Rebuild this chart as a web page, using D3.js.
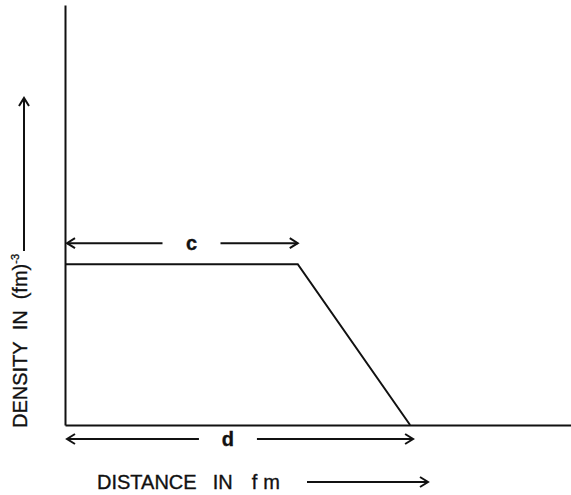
<!DOCTYPE html>
<html>
<head>
<meta charset="utf-8">
<script src="https://cdn.jsdelivr.net/npm/d3@7"></script>
<style>
  body { margin: 0; background: #fff; }
  text { font-family: "Liberation Sans", Arial, sans-serif; fill: #111; stroke: #111; stroke-width: 0.35px; }
</style>
</head>
<body>
<svg id="chart" width="571" height="495"></svg>
<script>
// trapezoid density profile (arbitrary units)
var distance = [0, 4.6, 6.82];
var density = [0.383, 0.383, 0];
var xDomain = [0, 10];
var yDomain = [0, 1];
var cLabel = "c";
var dLabel = "d";
var xTitle = ["DISTANCE", "IN", "fm"];
var yTitle = ["DENSITY", "IN", "(fm)"];
var yTitleSup = "-3";

var svg = d3.select("#chart");
var x = d3.scaleLinear().domain(xDomain).range([65, 571]);
var y = d3.scaleLinear().domain(yDomain).range([425, 5]);

// arrow heads
var defs = svg.append("defs");
defs.append("marker").attr("id", "head").attr("viewBox", "-10 -6 12 12")
    .attr("refX", 0).attr("refY", 0).attr("markerWidth", 12).attr("markerHeight", 12)
    .attr("markerUnits", "userSpaceOnUse").attr("orient", "auto")
    .append("path").attr("d", "M-8,-5 L0,0 L-8,5").attr("fill", "none")
    .attr("stroke", "#111").attr("stroke-width", 2);

// axes, no ticks
svg.append("g").attr("transform", "translate(" + x(0) + ",0)")
    .call(d3.axisLeft(y).ticks(0).tickSizeOuter(0))
    .select(".domain").attr("stroke", "#111").attr("stroke-width", 2);
svg.append("g").attr("transform", "translate(0," + y(0) + ")")
    .call(d3.axisBottom(x).ticks(0).tickSizeOuter(0))
    .select(".domain").attr("stroke", "#111").attr("stroke-width", 2);

// the profile
var pts = distance.map(function (d, i) { return [d, density[i]]; });
svg.append("path").datum(pts)
    .attr("d", d3.line().x(function (d) { return x(d[0]); }).y(function (d) { return y(d[1]); }))
    .attr("fill", "none").attr("stroke", "#111").attr("stroke-width", 2);

function spanArrow(x0, x1, yy, label, labelX, gap) {
    svg.append("line").attr("x1", labelX - gap).attr("y1", yy).attr("x2", x0 + 2).attr("y2", yy)
        .attr("stroke", "#111").attr("stroke-width", 2).attr("marker-end", "url(#head)");
    svg.append("line").attr("x1", labelX + gap).attr("y1", yy).attr("x2", x1).attr("y2", yy)
        .attr("stroke", "#111").attr("stroke-width", 2).attr("marker-end", "url(#head)");
    svg.append("text").attr("x", labelX).attr("y", yy + 7).attr("text-anchor", "middle")
        .style("font-size", "20px").style("font-weight", "bold").text(label);
}
spanArrow(x(0), x(distance[1]), y(density[0]) - 21, cLabel, x(2.5), 29);
spanArrow(x(0), x(distance[2]) + 3, y(0) + 14, dLabel, x(3.22), 29);

// x title + arrow
var xt = svg.append("text").attr("x", 97).attr("y", 489).style("font-size", "20px");
xt.append("tspan").text(xTitle[0]);
xt.append("tspan").attr("dx", 16).text(xTitle[1]);
xt.append("tspan").attr("dx", 19).attr("letter-spacing", "6px").text(xTitle[2]);
svg.append("line").attr("x1", 307).attr("y1", 482).attr("x2", 428).attr("y2", 482)
    .attr("stroke", "#111").attr("stroke-width", 2).attr("marker-end", "url(#head)");

// y title + arrow
var yt = svg.append("text").attr("transform", "translate(27,428) rotate(-90)")
    .style("font-size", "20px");
yt.append("tspan").text(yTitle[0]);
yt.append("tspan").attr("dx", 11).text(yTitle[1]);
yt.append("tspan").attr("dx", 11).text(yTitle[2]);
yt.append("tspan").attr("dy", -8).style("font-size", "11px").text(yTitleSup);
var len = yt.node().getBBox().width;
svg.append("line").attr("x1", 24).attr("y1", 428 - len - 3).attr("x2", 24).attr("y2", 98)
    .attr("stroke", "#111").attr("stroke-width", 2).attr("marker-end", "url(#head)");
</script>
</body>
</html>
